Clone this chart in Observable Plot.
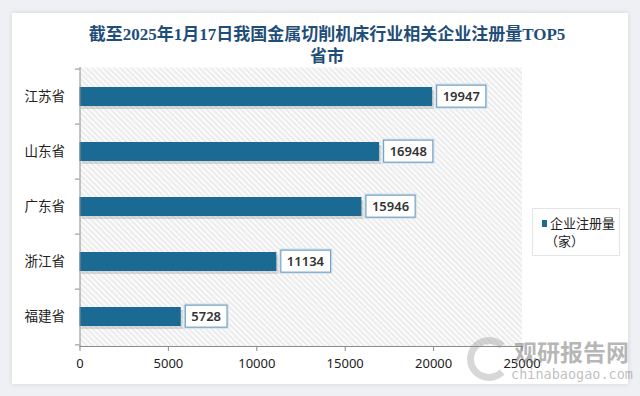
<!DOCTYPE html>
<html><head><meta charset="utf-8">
<script src="https://cdn.jsdelivr.net/npm/d3@7"></script>
<script src="https://cdn.jsdelivr.net/npm/@observablehq/plot@0.6"></script>
<style>
body{margin:0;background:#eef0f3;width:640px;height:396px;overflow:hidden;font-family:"Noto Sans CJK SC",sans-serif;position:relative;}
#card{position:absolute;left:12px;top:13px;width:616px;height:371px;background:#fff;box-shadow:0 0 5px rgba(0,0,0,0.12);}
#chart{position:absolute;left:0;top:0;}
#title{position:absolute;left:0;top:24px;width:654px;text-align:center;font-family:"Liberation Serif","Noto Sans CJK SC",serif;font-weight:bold;font-size:17px;line-height:22px;color:#1f4e79;}
#legend{position:absolute;left:532px;top:208px;width:86px;height:46px;border:1px solid #e4e4e4;background:#fff;font-size:13px;color:#222;}
#legend .sw{position:absolute;left:9px;top:11px;width:5px;height:7px;background:#1b6a94;}
#legend .l1{position:absolute;left:17px;top:5px;line-height:17px;white-space:nowrap;}
#legend .l2{position:absolute;left:12px;top:23px;line-height:17px;white-space:nowrap;}
#wm1{position:absolute;left:514px;top:334px;font-size:23px;font-weight:bold;color:rgba(110,110,110,0.5);white-space:nowrap;}
#wm2{position:absolute;left:511px;top:366px;font-family:"DejaVu Sans Mono",monospace;font-size:13.5px;color:rgba(110,110,110,0.45);white-space:nowrap;}
#logo{position:absolute;left:467px;top:337px;width:30px;height:30px;border-radius:50%;border:7px solid rgba(140,140,140,0.35);border-right-color:transparent;}
</style></head>
<body>
<div id="card"></div>
<div id="chart"></div>
<div id="title"></div>
<div id="legend"><div class="sw"></div><div class="l1"></div><div class="l2"></div></div>
<div id="logo"></div>
<div id="wm1">观研报告网</div>
<div id="wm2">chinabaogao.com</div>
<script>
const titleLines = ["截至2025年1月17日我国金属切削机床行业相关企业注册量TOP5", "省市"];
const provinces = ["江苏省", "山东省", "广东省", "浙江省", "福建省"];
const counts = [19947, 16948, 15946, 11134, 5728];
const xTicks = [0, 5000, 10000, 15000, 20000, 25000];
const seriesName = ["企业注册量", "（家）"];

document.getElementById("title").innerHTML = titleLines.join("<br>");
document.querySelector("#legend .l1").textContent = seriesName[0];
document.querySelector("#legend .l2").textContent = seriesName[1];

const data = provinces.map((p, i) => ({province: p, count: counts[i]}));
const barColor = "#1b6a94";
const axisGray = "#8c8c8c";

const plot = Plot.plot({
  width: 640, height: 396,
  marginLeft: 79.5, marginRight: 118.5, marginTop: 67, marginBottom: 50,
  style: {background: "transparent", fontFamily: '"Noto Sans","Noto Sans CJK SC",sans-serif', color: "#222"},
  x: {domain: [0, 25000], ticks: xTicks, tickFormat: d => String(d), label: null},
  y: {domain: provinces, padding: 0, label: null},
  marks: [
    Plot.frame({fill: "url(#hatch)"}),
    Plot.barX(data, {x: "count", y: "province", insetTop: 18, insetBottom: 18, fill: "#8a8a8a", fillOpacity: 0.3, dx: 2, dy: 3}),
    Plot.barX(data, {x: "count", y: "province", insetTop: 18, insetBottom: 18, fill: barColor}),
    Plot.frame({anchor: "left", stroke: axisGray}),
    Plot.frame({anchor: "bottom", stroke: axisGray}),
    Plot.ruleY(provinces, {y: d => d, x1: -260, x2: 0, dy: -27.9, stroke: axisGray}),
    Plot.ruleY([provinces[provinces.length - 1]], {y: d => d, x1: -260, x2: 0, dy: 27.9, stroke: axisGray}),
    Plot.axisX({ticks: xTicks, tickFormat: d => String(d), tickSize: 5, tickPadding: 7, fontSize: 13, stroke: axisGray, fill: "#222", label: null}),
    Plot.axisY({tickSize: 0, tickPadding: 15, fontSize: 13.5, fill: "#222", label: null}),
    Plot.text(data, {x: "count", y: "province", text: d => String(d.count), dx: 10, textAnchor: "start", fontSize: 13, fontWeight: 600, fill: "#333"})
  ]
});
document.getElementById("chart").appendChild(plot);

// hatch pattern
const ns = "http://www.w3.org/2000/svg";
const defs = document.createElementNS(ns, "defs");
defs.innerHTML = '<pattern id="hatch" patternUnits="userSpaceOnUse" width="4" height="4" patternTransform="rotate(-45)"><rect width="4" height="4" fill="#fbfbfb"/><line x1="1" y1="0" x2="1" y2="4" stroke="#e6e6e6" stroke-width="1.4"/></pattern>';
plot.insertBefore(defs, plot.firstChild);

// label boxes
const svgRect = plot.getBoundingClientRect();
const labelGroups = plot.querySelectorAll('g[aria-label="text"]');
const tg = labelGroups[labelGroups.length - 1];
const boxes = document.createElementNS(ns, "g");
tg.querySelectorAll("text").forEach(t => {
  const r = t.getBoundingClientRect();
  const x = r.left - svgRect.left - 6, w = r.width + 12;
  const cy = r.top - svgRect.top + r.height / 2;
  const glow = document.createElementNS(ns, "rect");
  glow.setAttribute("x", x); glow.setAttribute("y", cy - 11); glow.setAttribute("width", w); glow.setAttribute("height", 22);
  glow.setAttribute("fill", "none"); glow.setAttribute("stroke", "#d4e4ef"); glow.setAttribute("stroke-width", 3.5);
  boxes.appendChild(glow);
  const rc = document.createElementNS(ns, "rect");
  rc.setAttribute("x", x); rc.setAttribute("y", cy - 11); rc.setAttribute("width", w); rc.setAttribute("height", 22);
  rc.setAttribute("fill", "#fff"); rc.setAttribute("stroke", "#6f9dbd"); rc.setAttribute("stroke-width", 1.1);
  boxes.appendChild(rc);
});
plot.insertBefore(boxes, tg);
</script>
</body></html>
